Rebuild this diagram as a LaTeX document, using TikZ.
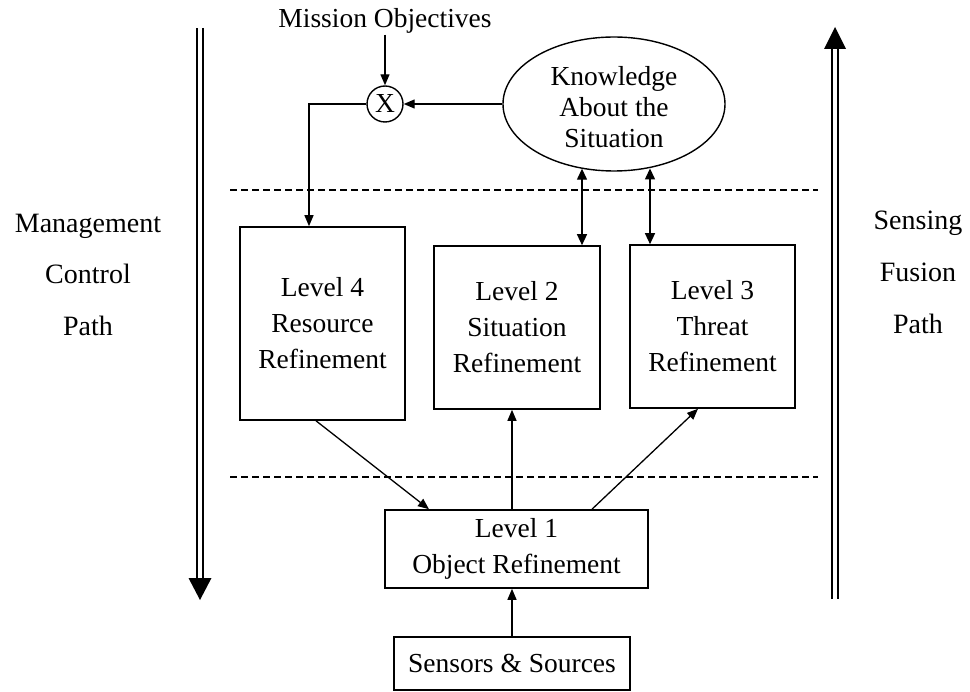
\documentclass[tikz,border=0pt]{standalone}
\usepackage{fontspec}
\setmainfont{Liberation Serif}
\usetikzlibrary{arrows.meta,shapes.geometric}
\begin{document}
\begin{tikzpicture}[x=1pt,y=-1pt,
  txt/.style={font=\fontsize{27.5}{36}\selectfont, align=center},
  box/.style={txt, draw, line width=1.6pt, inner sep=0pt},
  arr/.style={line width=1.3pt, -{Triangle[length=11pt,width=9pt]}},
  arrboth/.style={line width=1.3pt, {Triangle[length=11pt,width=10pt]}-{Triangle[length=11pt,width=10pt]}},
  sepline/.style={line width=1.2pt, dash pattern=on 7pt off 4pt},
  bigline/.style={double, double distance=4pt, line width=1.8pt},
  side/.style={font=\fontsize{28}{36}\selectfont, anchor=base}
]
\useasboundingbox (0,0) rectangle (970,692);

% side labels
\node[side] (m1) at (88,233) {Management};
\node[side] (m2) at (88,284) {Control};
\node[side] (m3) at (88,336) {Path};
\node[side] (s1) at (918,230) {Sensing};
\node[side] (s2) at (918,282) {Fusion};
\node[side] (s3) at (918,334) {Path};

% big double arrows
\coordinate (lt) at (200,28);
\coordinate (lb) at (200,579);
\draw[bigline] (lt) -- (lb);
\fill (lb) ++(-11.5,-1) -- ++(23,0) -- ++(-11.5,22) -- cycle;
\coordinate (rb) at (835,599);
\coordinate (rt) at (835,48);
\draw[bigline] (rb) -- (rt);
\fill (rt) ++(-11,1) -- ++(22,0) -- ++(-11,-22) -- cycle;

% dashed separators
\coordinate (d1a) at (230,190);
\coordinate (d1b) at (818,190);
\coordinate (d2a) at (230,477);
\coordinate (d2b) at (818,477);
\draw[sepline] (d1a) -- (d1b);
\draw[sepline] (d2a) -- (d2b);

% top
\node[txt, inner sep=1pt] (mis) at (385,21) {Mission Objectives};
\node[circle, draw, line width=1.4pt, minimum size=36pt, inner sep=0pt, txt] (cx) at (385,104) {X};
\node[ellipse, draw, line width=1.4pt, minimum width=222pt, minimum height=134pt, inner sep=0pt] (ell) at (614,104) {};
\node[align=center, font=\fontsize{27.5}{31}\selectfont] (ellt) at (614,107) {Knowledge\\About the\\Situation};

% level boxes
\node[box, minimum width=165pt, minimum height=193pt] (L4) at (322.5,323.5) {Level 4\\Resource\\Refinement};
\node[box, minimum width=166pt, minimum height=163pt] (L2) at (517,327.5) {Level 2\\Situation\\Refinement};
\node[box, minimum width=165pt, minimum height=163pt] (L3) at (712.5,326.5) {Level 3\\Threat\\Refinement};
\node[box, minimum width=263pt, minimum height=78pt] (L1) at (516.5,549) {Level 1\\Object Refinement};
\node[box, minimum width=236pt, minimum height=53pt] (S) at (512,663.5) {Sensors \& Sources};

% connectors
\draw[arr] (mis.south) -- (cx.north);
\draw[arr] (ell.west) -- (ell.west -| cx.east);
\draw[arr] (cx.west) -| ([xshift=-13.5pt]L4.north);
\draw[arrboth] ([xshift=65pt]L2.north) -- ([xshift=65pt]L2.north |- ell.243.6);
\draw[arrboth] ([xshift=-62.5pt]L3.north) -- ([xshift=-62.5pt]L3.north |- ell.298.4);
\draw[arr] ([xshift=-6.5pt]L4.south) -- ([xshift=-87.5pt]L1.north);
\draw[arr] ([xshift=-4.5pt]L1.north) -- ([xshift=-4.5pt]L1.north |- L2.south);
\draw[arr] ([xshift=75.5pt]L1.north) -- ([xshift=-14.5pt]L3.south);
\draw[arr] (S.north) -- (S.north |- L1.south);
\end{tikzpicture}
\end{document}
